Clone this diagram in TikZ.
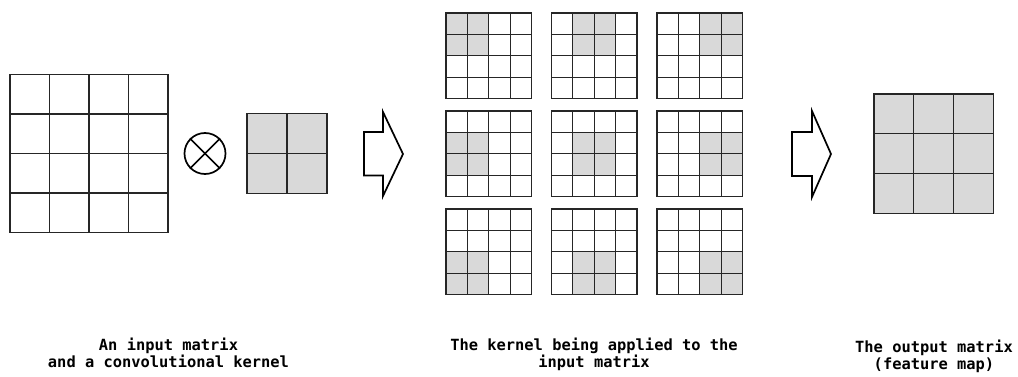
\documentclass[tikz,border=0pt]{standalone}
\usepackage{fontspec}
\setmonofont{DejaVu Sans Mono}
\tikzset{
  gridline/.style={draw=black!85, line width=1.2pt},
  cellfill/.style={fill=black!15},
  bigarrow/.style={draw=black, line width=1.7pt, line join=miter, fill=white},
  lbl/.style={font=\ttfamily\bfseries\fontsize{15.4}{17}\selectfont, anchor=base, inner sep=0pt},
  opcircle/.style={circle, draw=black, line width=1.7pt, minimum size=41pt, inner sep=0pt},
}
% #1,#2 origin, #3 cells per side, #4 cell size
\newcommand\cgridlines[4]{%
  \draw[gridline] (#1,#2) rectangle ++({#3*#4},{#3*#4});
  \foreach \k in {1,...,\numexpr#3-1\relax}{
    \draw[gridline] ({#1+\k*#4},#2) -- ++(0,{#3*#4});
    \draw[gridline] (#1,{#2+\k*#4}) -- ++({#3*#4},0);
  }%
}
\begin{document}
\begin{tikzpicture}[x=1pt,y=-1pt]
\useasboundingbox[fill=white] (0,0) rectangle (1018,377);

% input matrix 4x4
\cgridlines{10}{74.5}{4}{39.5}

% convolution operator
\node[opcircle] (otimes) at (205,153.5) {};
\draw[black, line width=1.7pt] (otimes.north west) -- (otimes.south east);
\draw[black, line width=1.7pt] (otimes.north east) -- (otimes.south west);

% kernel 2x2
\fill[cellfill] (247,113.5) rectangle ++(80,80);
\cgridlines{247}{113.5}{2}{40}

% first arrow
\draw[bigarrow] (364,132) -- (383,132) -- (383,112) -- (403,154) -- (383,196) -- (383,175.5) -- (364,175.5) -- cycle;

% nine positions of the kernel
\foreach \c in {0,1,2}{
  \foreach \r in {0,1,2}{
    \pgfmathsetmacro\gx{446+\c*105.5}
    \pgfmathsetmacro\gy{13+\r*98}
    \fill[cellfill] ({\gx+\c*21.375},{\gy+\r*21.375}) rectangle ++(42.75,42.75);
    \cgridlines{\gx}{\gy}{4}{21.375}
  }
}

% second arrow
\draw[bigarrow] (792,132) -- (812,132) -- (812,111) -- (831,154) -- (812,197) -- (812,176) -- (792,176) -- cycle;

% output matrix 3x3
\fill[cellfill] (874,94) rectangle ++(119.4,119.4);
\cgridlines{874}{94}{3}{39.8}

% labels
\node[lbl] (l1a) at (168.5,350) {An input matrix};
\node[lbl] (l1b) at (168.5,367) {and a convolutional kernel};
\node[lbl] (l2a) at (594,350) {The kernel being applied to the};
\node[lbl] (l2b) at (594,367) {input matrix};
\node[lbl] (l3a) at (934,352) {The output matrix};
\node[lbl] (l3b) at (934,369) {(feature map)};
\end{tikzpicture}
\end{document}
